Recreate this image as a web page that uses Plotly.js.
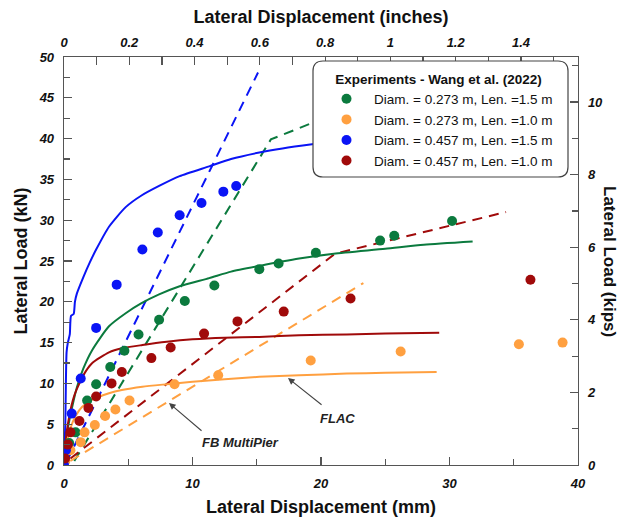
<!DOCTYPE html>
<html>
<head>
<meta charset="utf-8">
<script src="https://cdn.plot.ly/plotly-3.0.1.min.js"></script>
<style>html,body{margin:0;padding:0;background:#fff;}#chart{width:624px;height:518px;}</style>
</head>
<body>
<div id="chart"></div>
<script>
// ---- Experimental data (Wang et al. 2022) : displacement (mm), load (kN)
var legendNames = ["Diam. = 0.273 m, Len. =1.5 m", "Diam. = 0.273 m, Len. =1.0 m", "Diam. = 0.457 m, Len. =1.5 m", "Diam. = 0.457 m, Len. =1.0 m"];

var expGreenX = [0, 0.4, 0.9, 1.8, 2.5, 3.6, 4.7, 5.8, 7.4, 9.4, 11.7, 15.2, 16.7, 19.6, 24.6, 25.7, 30.2];
var expGreenY = [1.5, 2.7, 4.0, 7.9, 9.9, 12.0, 14.0, 16.0, 17.8, 20.1, 22.0, 24.0, 24.7, 26.0, 27.5, 28.1, 29.9];

var expOrangeX = [0.1, 0.5, 1.3, 1.6, 2.4, 3.2, 4.0, 5.1, 8.6, 12.0, 19.2, 26.2, 35.4, 38.8];
var expOrangeY = [0.5, 1.8, 2.8, 4.0, 4.9, 6.0, 6.8, 7.9, 9.9, 11.0, 12.8, 13.9, 14.8, 15.0];

var expBlueX = [0, 0.15, 0.6, 1.3, 2.5, 4.1, 6.1, 7.3, 9.0, 10.7, 12.4, 13.4];
var expBlueY = [0, 1.8, 6.3, 10.6, 16.8, 22.1, 26.4, 28.5, 30.6, 32.1, 33.5, 34.2];

var expRedX = [0.08, 0.3, 0.5, 1.2, 1.9, 2.5, 3.7, 4.5, 6.8, 8.3, 10.9, 13.5, 17.1, 22.3, 36.3];
var expRedY = [0.8, 2.5, 4.0, 5.4, 7.0, 8.4, 10.0, 11.4, 13.1, 14.4, 16.1, 17.6, 18.8, 20.4, 22.7];

// ---- FLAC curves (solid)
var flacBlueX = [0, 0.1, 0.2, 0.3, 0.45, 0.55, 0.75, 0.85, 1.0, 1.5, 2.0, 2.5, 3.5, 4.8, 6.0, 7.4, 9.0, 11.3, 13.0, 15.2, 17.0, 19.3, 22.0, 25.0];
var flacBlueY = [0, 5, 13.8, 15.0, 16.0, 18.3, 18.5, 20.0, 21.0, 23.0, 24.8, 26.4, 29.2, 31.6, 33.0, 34.2, 35.4, 36.6, 37.5, 38.3, 38.8, 39.3, 39.8, 40.3];

var flacGreenX = [0, 0.1, 0.3, 0.65, 1.0, 1.5, 2.2, 3.5, 4.8, 6.0, 7.4, 9.0, 11.3, 13.0, 15.2, 18.3, 21.0, 25.0, 28.0, 31.8];
var flacGreenY = [0, 2.0, 4.5, 7.2, 9.5, 11.8, 14.1, 17.0, 18.6, 19.8, 20.9, 21.9, 22.9, 23.7, 24.4, 25.3, 25.9, 26.5, 27.0, 27.4];

var flacRedX = [0, 0.1, 0.4, 0.8, 1.2, 1.7, 2.2, 3.5, 4.5, 6.1, 8.0, 10.0, 12.5, 15.2, 18.3, 22.0, 25.0, 29.2];
var flacRedY = [0, 2.5, 5.9, 8.5, 10.0, 11.5, 12.5, 13.8, 14.3, 14.7, 15.1, 15.4, 15.6, 15.7, 15.9, 16.0, 16.1, 16.2];

var flacOrangeX = [0, 0.2, 0.5, 0.9, 1.4, 2.2, 3.5, 4.5, 6.1, 8.0, 10.0, 12.5, 15.2, 18.3, 22.0, 25.0, 29.0];
var flacOrangeY = [0, 2.5, 4.5, 6.0, 7.1, 8.0, 8.8, 9.2, 9.6, 9.9, 10.2, 10.5, 10.8, 11.0, 11.2, 11.3, 11.4];

// ---- FB MultiPier curves (dashed)
var fbBlueX = [0.2, 15.1];
var fbBlueY = [0.4, 48.1];
var fbGreenX = [0.8, 16.1, 25.0];
var fbGreenY = [0.5, 39.9, 45.5];
var fbRedX = [0.5, 21.1, 34.4];
var fbRedY = [0.8, 25.9, 31.0];
var fbOrangeX = [0.5, 23.3];
var fbOrangeY = [0.5, 22.3];

// unit conversions for secondary axes
var MM_PER_IN = 25.4;
var KN_PER_KIP = 4.448;

var cGreen = '#0b7a3e', cOrange = '#ffa040', cBlue = '#0a14f5', cRed = '#a00a0a';

function line(x, y, c, dash) {
  return {x: x, y: y, type: 'scatter', mode: 'lines', showlegend: false, hoverinfo: 'skip',
          line: {color: c, width: 2, dash: dash ? '10px,7px' : 'solid',
                 shape: dash ? 'linear' : 'spline', smoothing: 0.6}};
}
function pts(x, y, c, name) {
  return {x: x, y: y, type: 'scatter', mode: 'markers', name: name,
          marker: {color: c, size: 10}};
}

var traces = [
  line(fbBlueX, fbBlueY, cBlue, true),
  line(fbGreenX, fbGreenY, cGreen, true),
  line(fbRedX, fbRedY, cRed, true),
  line(fbOrangeX, fbOrangeY, cOrange, true),
  line(flacBlueX, flacBlueY, cBlue, false),
  line(flacGreenX, flacGreenY, cGreen, false),
  line(flacRedX, flacRedY, cRed, false),
  line(flacOrangeX, flacOrangeY, cOrange, false),
  pts(expGreenX, expGreenY, cGreen, legendNames[0]),
  pts(expOrangeX, expOrangeY, cOrange, legendNames[1]),
  pts(expBlueX, expBlueY, cBlue, legendNames[2]),
  pts(expRedX, expRedY, cRed, legendNames[3]),
  {x: [], y: [], xaxis: 'x2', yaxis: 'y2', type: 'scatter', mode: 'markers', showlegend: false, hoverinfo: 'skip'}
];

var tickFont = {family: 'Liberation Sans, Arial, sans-serif', size: 13, weight: 'bold', style: 'italic', color: '#111'};
var titleFont = {family: 'Liberation Sans, Arial, sans-serif', size: 18, weight: 'bold', color: '#111'};
var axCol = '#555';

function axisBase(extra) {
  var a = {showgrid: false, zeroline: false, showline: true, linecolor: axCol, linewidth: 1.3,
           ticks: 'inside', ticklen: 8, tickwidth: 1.2, tickcolor: axCol, tickfont: tickFont,
           fixedrange: true, automargin: false};
  for (var k in extra) a[k] = extra[k];
  return a;
}

// legend box geometry (pixels in plot area)
var L = 64, T = 57, W = 514, H = 408;
function px(x) { return (x - L) / W; }
function py(y) { return (T + H - y) / H; }
var bx0 = px(313), bx1 = px(568), by0 = py(177), by1 = py(61);
var rx = 10 / W, ry = 10 / H;
var boxPath = 'M ' + (bx0 + rx) + ',' + by1 + ' L ' + (bx1 - rx) + ',' + by1 +
  ' Q ' + bx1 + ',' + by1 + ' ' + bx1 + ',' + (by1 - ry) + ' L ' + bx1 + ',' + (by0 + ry) +
  ' Q ' + bx1 + ',' + by0 + ' ' + (bx1 - rx) + ',' + by0 + ' L ' + (bx0 + rx) + ',' + by0 +
  ' Q ' + bx0 + ',' + by0 + ' ' + bx0 + ',' + (by0 + ry) + ' L ' + bx0 + ',' + (by1 - ry) +
  ' Q ' + bx0 + ',' + by1 + ' ' + (bx0 + rx) + ',' + by1 + ' Z';

var annFont = {family: 'Liberation Sans, Arial, sans-serif', size: 13, weight: 'bold', style: 'italic', color: '#222'};

var layout = {
  width: 624, height: 518,
  margin: {l: 64, r: 46, t: 57, b: 53, pad: 0},
  paper_bgcolor: '#fff', plot_bgcolor: '#fff',
  xaxis: axisBase({range: [0, 40], tick0: 0, dtick: 10, ticklabelstandoff: 6,
    minor: {ticks: 'inside', dtick: 5, ticklen: 6, tickcolor: axCol, tickwidth: 1.2},
    title: {text: 'Lateral Displacement (mm)', font: titleFont, standoff: 10}}),
  xaxis2: axisBase({range: [0, 40 / MM_PER_IN], tick0: 0, dtick: 0.2, overlaying: 'x', side: 'top', anchor: 'y',
    ticklabelstandoff: 4,
    minor: {ticks: 'inside', dtick: 0.1, ticklen: 8, tickcolor: axCol, tickwidth: 1.2},
    title: {text: 'Lateral Displacement (inches)', font: titleFont, standoff: 6}}),
  yaxis: axisBase({range: [0, 50], tick0: 0, dtick: 5, ticklabelstandoff: 6,
    minor: {ticks: 'inside', dtick: 2.5, ticklen: 6, tickcolor: axCol, tickwidth: 1.2},
    title: {text: 'Lateral Load (kN)', font: titleFont, standoff: 6}}),
  yaxis2: axisBase({range: [0, 50 / KN_PER_KIP], tick0: 0, dtick: 2, overlaying: 'y', side: 'right', anchor: 'x',
    ticklabelstandoff: 6,
    minor: {ticks: 'inside', dtick: 1, ticklen: 6, tickcolor: axCol, tickwidth: 1.2}}),
  showlegend: true,
  legend: {x: px(319), y: py(66), xanchor: 'left', yanchor: 'top', bgcolor: 'rgba(0,0,0,0)', borderwidth: 0,
    font: {family: 'Liberation Sans, Arial, sans-serif', size: 13.5, color: '#111'},
    itemwidth: 45, tracegroupgap: 0,
    title: {text: 'Experiments - Wang et al. (2022)', side: 'top center',
      font: {family: 'Liberation Sans, Arial, sans-serif', size: 13.5, weight: 'bold', color: '#111'}}},
  shapes: [{type: 'path', xref: 'paper', yref: 'paper', path: boxPath, layer: 'above',
    fillcolor: '#fff', line: {color: '#444', width: 1.2}}],
  annotations: [
    {xref: 'paper', yref: 'paper', x: px(610), y: 0.5, xanchor: 'center', text: 'Lateral Load (kips)', textangle: 90,
      showarrow: false, font: {family: 'Liberation Sans, Arial, sans-serif', size: 17, weight: 'bold', color: '#111'}},
    {x: 8.17, y: 7.6, ax: 10.82, ay: 4.04, axref: 'x', ayref: 'y', text: '', showarrow: true,
      arrowhead: 2, arrowsize: 1.2, arrowwidth: 1.1, arrowcolor: '#444'},
    {x: 13.7, y: 2.7, text: 'FB MultiPier', showarrow: false, font: annFont},
    {x: 17.43, y: 10.66, ax: 20.16, ay: 7.23, axref: 'x', ayref: 'y', text: '', showarrow: true,
      arrowhead: 2, arrowsize: 1.2, arrowwidth: 1.1, arrowcolor: '#444'},
    {x: 21.3, y: 5.76, text: 'FLAC', showarrow: false, font: annFont}
  ]
};

Plotly.newPlot('chart', traces, layout, {staticPlot: true, displayModeBar: false});
</script>
</body>
</html>
